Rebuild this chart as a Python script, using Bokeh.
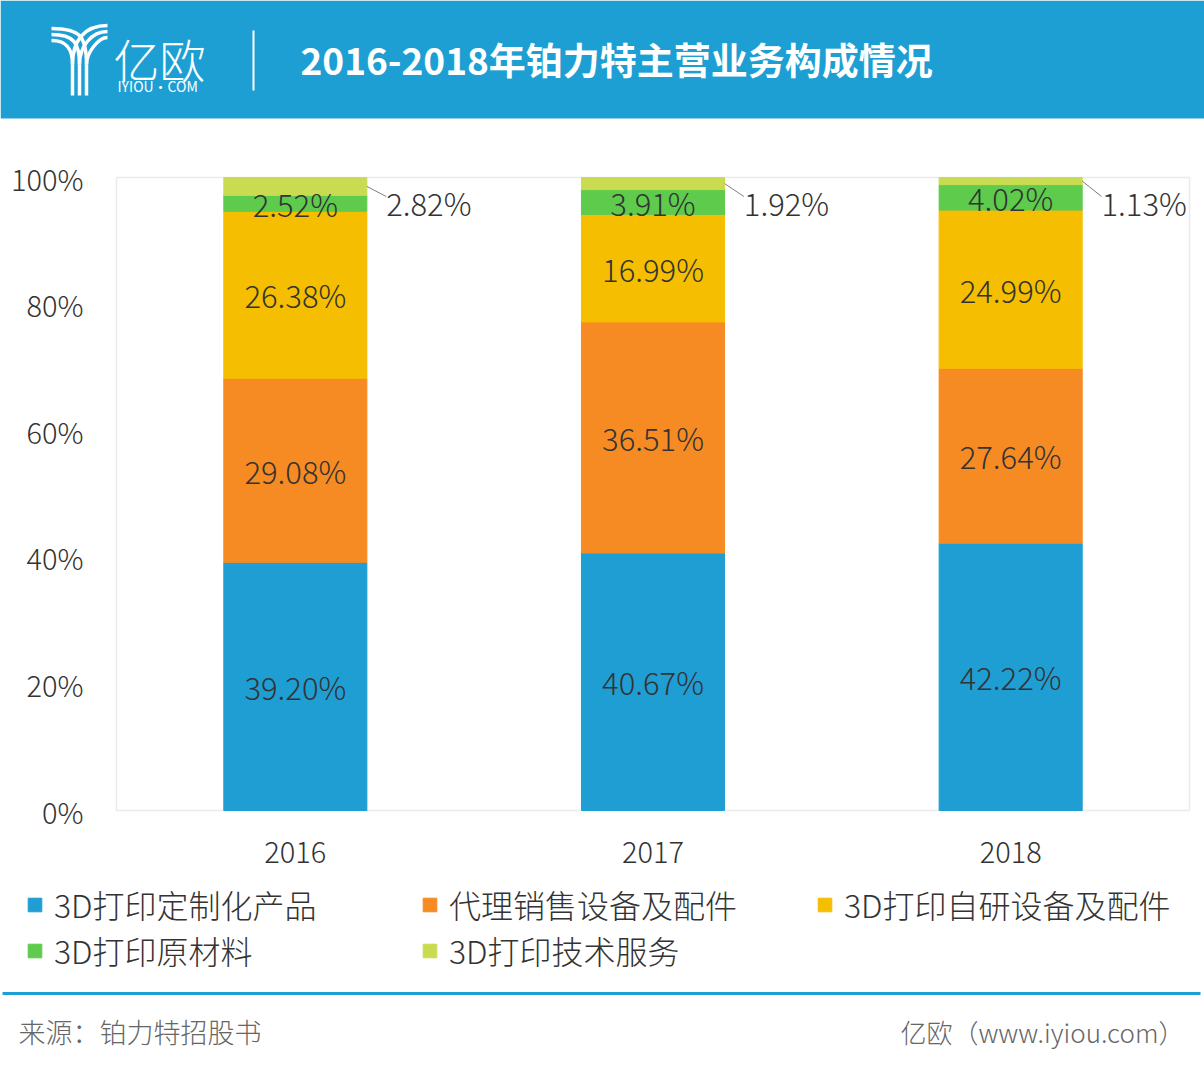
import numpy as np
from bokeh.plotting import figure
from bokeh.models import (ColumnDataSource, Range1d, FixedTicker, PrintfTickFormatter,
                          LabelSet, Legend, LegendItem, BoxAnnotation)
from bokeh.layouts import column
from bokeh.core.properties import value
from bokeh.embed import file_html
from bokeh.resources import INLINE

# ---------------- data ----------------
years = ["2016", "2017", "2018"]
series_names = ["3D打印定制化产品", "代理销售设备及配件", "3D打印自研设备及配件", "3D打印原材料", "3D打印技术服务"]
custom_products = [39.20, 40.67, 42.22]
agency_sales = [29.08, 36.51, 27.64]
selfdev_equipment = [26.38, 16.99, 24.99]
raw_materials = [2.52, 3.91, 4.02]
tech_services = [2.82, 1.92, 1.13]
y_ticks = [0, 20, 40, 60, 80, 100]

title_text = "2016-2018年铂力特主营业务构成情况"
source_text = "来源：铂力特招股书"
brand_text = "亿欧（www.iyiou.com）"

colors = ["#1f9ed4", "#f68b23", "#f5be00", "#5ecb4c", "#c9dc51"]
BLUE = "#1e9fd3"
FONT = "Noto Sans CJK SC"
LIGHT = "Noto Sans CJK SC Light"
TXT = "#333333"
W = 1204

# ---------------- header ----------------
header = figure(width=W, height=120, x_range=Range1d(0, W), y_range=Range1d(120, 0),
                output_backend="svg", toolbar_location=None, min_border=0, frame_align=False)
header.axis.visible = False
header.grid.visible = False
header.outline_line_color = None
header.quad(left=[0], right=[W], top=[0], bottom=[118], fill_color=BLUE, line_color=None)
# logo (stylised Y)
for i in range(3):
    xs = 72 + 7 * i
    header.bezier(x0=[51], y0=[40 - 6 * i], x1=[xs], y1=[64],
                  cx0=[xs - 6], cy0=[40 - 6 * i], cx1=[xs], cy1=[48 - 6 * i],
                  line_color="white", line_width=3.5)
    header.bezier(x0=[107], y0=[25 + 6 * i], x1=[xs], y1=[64],
                  cx0=[xs + 12], cy0=[25 + 6 * i], cx1=[xs], cy1=[40 + 6 * i],
                  line_color="white", line_width=3.5)
    header.segment(x0=[xs], y0=[64], x1=[xs], y1=[95], line_color="white", line_width=3.5)
header.text(x=[113], y=[57], text=["亿欧"], text_color="white", text_font=value(LIGHT),
            text_font_size="46px", text_baseline="middle")
header.text(x=[117], y=[85], text=["IYIOU·COM"], text_color="white", text_font=value(FONT),
            text_font_size="14px", text_baseline="middle")
header.segment(x0=[253], y0=[30], x1=[253], y1=[90], line_color="white", line_width=2)
header.text(x=[300], y=[58], text=[title_text], text_color="white", text_font=value(FONT),
            text_font_size="37px", text_font_style="bold", text_baseline="middle")

# ---------------- chart ----------------
# chart canvas spans page y 120..990; plot area spans page x 116..1189, y 177..810
n = len(years)
unit = (1189 - 116) / n          # px per category
pct = (810 - 177) / 100          # px per percent
x_range = Range1d(-116 / unit, (W - 116) / unit)
y_range = Range1d(-(990 - 810) / pct, (810 - 120) / pct)

xpos = np.arange(n) + 0.5
stack_keys = ["s0", "s1", "s2", "s3", "s4"]
vals = np.array([custom_products, agency_sales, selfdev_equipment, raw_materials, tech_services])
data = {"x": xpos, "year": years}
for k, v in zip(stack_keys, vals):
    data[k] = list(v)
source = ColumnDataSource(data)

p = figure(width=W, height=870, x_range=x_range, y_range=y_range,
           output_backend="svg", toolbar_location=None, frame_align=False, min_border=0)
p.grid.visible = False
p.outline_line_color = None
p.background_fill_color = "white"
p.border_fill_color = "white"

renderers = p.vbar_stack(stack_keys, x="x", width=0.4, color=colors, line_color=colors, source=source)

# plot-area border
p.add_layout(BoxAnnotation(left=0, right=n, bottom=0, top=100, fill_alpha=0,
                           line_color="#bdbdbd", line_width=1.5, level="underlay"))

p.xaxis.fixed_location = 0
p.yaxis.fixed_location = 0
p.xaxis.ticker = FixedTicker(ticks=list(xpos))
p.xaxis.major_label_overrides = {float(x): y for x, y in zip(xpos, years)}
p.yaxis.ticker = FixedTicker(ticks=y_ticks)
p.yaxis.formatter = PrintfTickFormatter(format="%d%%")
for ax in (p.xaxis[0], p.yaxis[0]):
    ax.axis_line_color = None
    ax.major_tick_line_color = None
    ax.minor_tick_line_color = None
    ax.major_tick_out = 0
    ax.major_tick_in = 0
    ax.major_label_text_font = LIGHT
    ax.major_label_text_font_size = "29px"
    ax.major_label_text_color = TXT
p.yaxis.major_label_standoff = 33
p.xaxis.major_label_standoff = 31

# inside labels
cum = np.cumsum(vals, axis=0)
mids = cum - vals / 2
lab_x, lab_y, lab_t = [], [], []
for s in range(4):
    for j in range(n):
        lab_x.append(xpos[j])
        lab_y.append(mids[s, j])
        lab_t.append(f"{vals[s, j]:.2f}%")
inside = ColumnDataSource(dict(x=lab_x, y=lab_y, t=lab_t))
p.add_layout(LabelSet(x="x", y="y", text="t", source=inside, text_align="center", text_baseline="middle",
                      text_font=value(LIGHT), text_font_size="31px", text_color=TXT))

# outside labels for the top (thin) segment with leader lines
out = ColumnDataSource(dict(x0=xpos + 0.2, x1=xpos + 0.254, y0=list(mids[4]), y1=[97.0] * n,
                            ly=[96.0] * n, t=[f"{v:.2f}%" for v in tech_services]))
p.segment(x0="x0", y0="y0", x1="x1", y1="y1", source=out, line_color="#7f7f7f", line_width=1)
p.add_layout(LabelSet(x="x1", y="ly", text="t", source=out, text_align="left", text_baseline="middle",
                      text_font=value(LIGHT), text_font_size="31px", text_color=TXT))

items = [LegendItem(label=nm, renderers=[r]) for nm, r in zip(series_names, renderers)]
legend = Legend(items=items, ncols=3, orientation="horizontal", location=(26, 17),
                label_text_font=LIGHT, label_text_font_size="32px", label_text_color=TXT,
                glyph_width=17, glyph_height=17, label_standoff=11, label_width=367, label_height=30,
                spacing=0, padding=0, margin=0, border_line_color=None, background_fill_alpha=0)
p.add_layout(legend, "center")

# ---------------- footer ----------------
footer = figure(width=W, height=80, x_range=Range1d(0, W), y_range=Range1d(1070, 990),
                output_backend="svg", toolbar_location=None, min_border=0, frame_align=False)
footer.axis.visible = False
footer.grid.visible = False
footer.outline_line_color = None
footer.segment(x0=[2], y0=[993], x1=[1200], y1=[993], line_color=BLUE, line_width=3)
footer.text(x=[18], y=[1031], text=[source_text], text_color="#666666", text_font=value(LIGHT),
            text_font_size="27px", text_baseline="middle")
footer.text(x=[1184], y=[1031], text=[brand_text], text_color="#666666", text_font=value(LIGHT),
            text_font_size="26px", text_baseline="middle", text_align="right")

layout = column(header, p, footer, spacing=0)
open("out.html", "w").write(file_html(layout, INLINE))
